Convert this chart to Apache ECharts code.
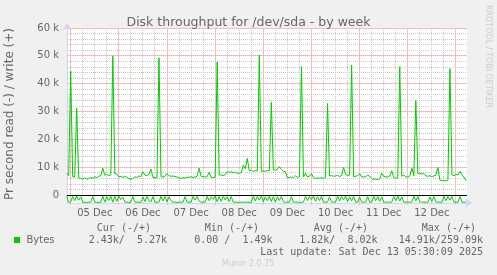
<!DOCTYPE html>
<html><head><meta charset="utf-8">
<script src="https://cdn.jsdelivr.net/npm/echarts@6/dist/echarts.min.js"></script>
<style>html,body{margin:0;padding:0;background:#F0F0F0;}#c{width:497px;height:275px;}</style>
</head><body><div id="c"></div>
<script>
// hourly samples, first sample at Dec 4 22:00 (hours relative to Dec 5 00:00)
const startHour = -2;
// write (+) in k bytes/s
const writeK = [
7.8, 7.0, 44.5, 6.6, 6.5, 31.3, 6.2, 6.0, 5.8, 6.2,
5.7, 6.0, 6.4, 6.1, 6.6, 6.3, 6.8, 7.0, 9.7, 7.2,
7.4, 7.0, 7.3, 50.0, 7.8, 7.6, 6.6, 6.8, 6.4, 6.7,
6.5, 5.9, 5.7, 6.0, 6.6, 6.4, 6.9, 6.7, 8.4, 7.3,
7.0, 7.5, 9.4, 6.4, 6.2, 6.3, 49.3, 6.6, 6.5, 6.8,
7.8, 7.0, 6.8, 6.9, 6.7, 6.5, 6.2, 6.0, 6.3, 6.1,
6.5, 6.4, 6.6, 6.3, 6.5, 6.8, 9.7, 6.8, 6.6, 6.5,
6.7, 8.2, 6.4, 6.3, 6.5, 47.8, 7.2, 7.3, 7.0, 7.4,
8.4, 8.2, 8.5, 8.0, 8.3, 7.8, 7.9, 8.0, 10.8, 9.5,
13.2, 8.8, 9.0, 8.6, 8.8, 8.7, 50.3, 8.5, 8.7, 8.6,
8.8, 8.9, 33.3, 9.1, 9.0, 9.3, 10.3, 9.2, 8.6, 8.4,
6.2, 6.4, 6.5, 6.3, 7.0, 6.4, 6.6, 46.1, 6.5, 7.8,
6.6, 6.8, 7.8, 6.3, 6.0, 6.2, 6.1, 6.3, 6.0, 6.4,
32.9, 6.9, 7.0, 6.8, 6.9, 7.1, 6.7, 7.0, 10.0, 7.5,
7.0, 7.2, 46.6, 6.6, 6.8, 7.0, 7.8, 6.6, 6.5, 6.7,
7.2, 6.8, 5.9, 5.7, 5.8, 5.6, 5.9, 7.8, 6.8, 6.6,
6.5, 6.9, 8.8, 6.3, 6.1, 6.2, 46.1, 6.8, 7.2, 6.6,
6.5, 6.9, 9.7, 7.0, 33.9, 7.8, 7.9, 7.6, 7.8, 6.9,
6.8, 7.0, 6.7, 6.9, 7.2, 10.0, 5.4, 5.2, 5.3, 5.1,
5.4, 45.4, 7.3, 7.0, 7.5, 7.3, 8.6, 7.3, 6.5, 5.27
];
// read (-) in k bytes/s (drawn negative)
const readK = [
0.4, 2.5, 2.5, 0.5, 2.0, 0.3, 1.8, 0.6, 2.5, 2.5,
2.6, 2.5, 2.5, 0.5, 2.5, 2.5, 2.6, 2.5, 0.4, 2.5,
0.6, 1.9, 0.4, 2.5, 0.5, 2.2, 0.3, 1.6, 0.7, 2.5,
2.5, 2.6, 2.5, 0.5, 2.5, 2.5, 2.5, 2.6, 0.6, 2.3,
0.4, 2.0, 2.4, 0.5, 2.5, 2.5, 2.5, 0.4, 2.1, 0.5,
2.4, 0.6, 2.0, 2.5, 2.5, 2.6, 2.5, 2.5, 2.5, 0.5,
2.5, 2.5, 2.5, 0.4, 1.8, 0.5, 2.2, 2.5, 2.5, 2.5,
0.4, 2.0, 0.6, 1.5, 0.3, 2.4, 0.5, 2.2, 0.4, 1.7,
0.6, 2.3, 0.5, 2.5, 2.5, 2.5, 2.6, 2.5, 2.5, 2.5,
2.5, 2.6, 2.5, 0.4, 2.1, 0.5, 1.8, 0.3, 2.4, 0.6,
2.0, 0.4, 2.3, 0.5, 2.5, 0.6, 1.9, 0.4, 2.4, 2.5,
2.5, 2.5, 0.5, 2.5, 2.5, 2.5, 2.6, 2.5, 2.5, 0.4,
2.0, 0.5, 1.6, 0.3, 2.2, 0.6, 1.9, 0.4, 2.5, 2.5,
2.5, 0.6, 2.5, 2.5, 2.5, 0.4, 2.1, 0.5, 1.7, 0.3,
2.3, 0.6, 2.0, 0.4, 2.5, 2.5, 0.6, 2.5, 2.5, 2.5,
0.5, 2.5, 2.5, 0.4, 2.0, 0.5, 2.2, 0.6, 2.5, 2.5,
2.5, 2.5, 2.5, 0.5, 1.9, 0.4, 2.1, 0.6, 2.5, 2.5,
2.5, 2.5, 2.5, 0.4, 2.0, 0.5, 2.3, 2.5, 2.5, 2.5,
2.5, 0.6, 2.2, 0.5, 2.5, 2.5, 2.5, 2.5, 0.4, 2.0,
0.5, 1.8, 0.4, 2.5, 2.5, 2.5, 0.5, 2.5, 2.5, 2.43
];
const dayLabels = ['05 Dec','06 Dec','07 Dec','08 Dec','09 Dec','10 Dec','11 Dec','12 Dec'];
const dayLabelHours = [12, 36, 60, 84, 108, 132, 156, 180];
const yTickValues = [0, 10000, 20000, 30000, 40000, 50000, 60000];
const legendHeaders = ['Cur (-/+)', 'Min (-/+)', 'Avg (-/+)', 'Max (-/+)'];
const legendValues = ['2.43k/  5.27k', '0.00 /  1.49k', '1.82k/  8.02k', '14.91k/259.09k'];
const seriesName = 'Bytes';
const titleText = 'Disk throughput for /dev/sda - by week';
const yTitle = 'Pr second read (-) / write (+)';
const lastUpdate = 'Last update: Sat Dec 13 05:30:09 2025';
const footer = 'Munin 2.0.75';
const sideText = 'RRDTOOL / TOBI OETIKER';

const xMin = -11/6, xMax = 197.5, yMin = -2800, yMax = 60000;

const writeData = writeK.map((v, i) => [startHour + i, v * 1000]);
const readData = readK.map((v, i) => [startHour + i, -v * 1000]);

const majorV = [0, 24, 48, 72, 96, 120, 144, 168, 192];
const minorV = [], majorH = [10000, 20000, 30000, 40000, 50000, 60000], minorH = [];
for (let h = 6; h <= xMax; h += 6) { if (h % 24 !== 0) minorV.push(h); }
for (let v = 2000; v <= yMax; v += 2000) { if (v % 10000 !== 0) minorH.push(v); }

const FONT = '#666666', AXIS = '#CFD6F8', GREEN = '#00CC00';

// grid lines drawn through the axes' scales, snapped to crisp pixels
function gridSeries(name, values, orient, color, dash, z, tick) {
  return {
    name: name, type: 'custom', silent: true, animation: false, clip: false, z: z,
    data: values.map(v => orient === 'v' ? [v, 0] : [0, v]),
    encode: {x: 0, y: 1},
    renderItem: function (params, api) {
      const cs = params.coordSys;
      const p = api.coord([api.value(0), api.value(1)]);
      let shape;
      if (orient === 'v') {
        const x = Math.floor(p[0]) + 0.5;
        shape = {x1: x, y1: cs.y, x2: x, y2: cs.y + cs.height + (tick || 0)};
      } else {
        const y = Math.floor(p[1]) + 0.5;
        shape = {x1: cs.x, y1: y, x2: cs.x + cs.width, y2: y};
      }
      return {type: 'line', shape: shape, style: {stroke: color, lineWidth: 1, lineDash: dash ? dash.slice() : null}};
    }
  };
}

const chart = echarts.init(document.getElementById('c'), null, {renderer: 'canvas'});
const monoStyle = (txt, x, y, align, color) => ({
  type: 'text', x: x, y: y, silent: true,
  style: {text: txt, fill: color || FONT, font: '10px "DejaVu Sans Mono"', textAlign: align, textVerticalAlign: 'middle'}
});
const graphics = [
  {type: 'text', x: 10, y: 114, rotation: Math.PI / 2, silent: true,
   style: {text: yTitle, fill: FONT, font: '12px "DejaVu Sans"', textAlign: 'center', textVerticalAlign: 'middle'}},
  {type: 'text', x: 488, y: 5, rotation: -Math.PI / 2, silent: true,
   style: {text: sideText, fill: '#cccccc', font: '8px "DejaVu Sans"', textAlign: 'left', textVerticalAlign: 'middle'}},
  {type: 'rect', shape: {x: 14, y: 237, width: 6, height: 6}, style: {fill: GREEN, stroke: null}, silent: true},
  {type: 'text', x: 26.5, y: 240, silent: true,
   style: {text: seriesName, fill: FONT, font: '10px "DejaVu Sans"', textAlign: 'left', textVerticalAlign: 'middle'}},
  {type: 'text', x: 248, y: 264, silent: true,
   style: {text: footer, fill: '#cccccc', font: '8px "DejaVu Sans"', textAlign: 'center', textVerticalAlign: 'middle'}},
  monoStyle(lastUpdate, 483, 252, 'right')
];
const headerRight = [151, 259, 368, 476];
const valueRight = [167, 272.5, 377.5, 483];
legendHeaders.forEach((t, k) => graphics.push(monoStyle(t, headerRight[k], 228, 'right')));
legendValues.forEach((t, k) => graphics.push(monoStyle(t, valueRight[k], 240, 'right')));

chart.setOption({
  animation: false,
  backgroundColor: '#F0F0F0',
  title: {text: titleText, left: 'center', top: 11,
    textStyle: {color: FONT, fontSize: 12.5, fontWeight: 'normal', fontFamily: 'DejaVu Sans'}},
  grid: {left: 67, top: 28, width: 400, height: 175, show: true, backgroundColor: '#FFFFFF', borderWidth: 0, containLabel: false},
  xAxis: {type: 'value', min: xMin, max: xMax,
    axisLine: {show: true, onZero: false, lineStyle: {color: AXIS, width: 1}, symbol: ['none', 'arrow'], symbolSize: [7, 7], symbolOffset: [0, 5]},
    axisTick: {show: false}, splitLine: {show: false},
    axisLabel: {customValues: dayLabelHours, color: FONT, fontSize: 10, fontFamily: 'DejaVu Sans', margin: 5,
      formatter: v => dayLabels[dayLabelHours.indexOf(v)] || ''}},
  yAxis: {type: 'value', min: yMin, max: yMax,
    axisLine: {show: true, onZero: false, lineStyle: {color: AXIS, width: 1}, symbol: ['none', 'arrow'], symbolSize: [7, 7], symbolOffset: [0, 5]},
    axisTick: {show: false}, splitLine: {show: false},
    axisLabel: {customValues: yTickValues, color: FONT, fontSize: 10, fontFamily: 'DejaVu Sans', margin: 8,
      formatter: v => v === 0 ? '0' : (v / 1000) + ' k'}},
  graphic: graphics,
  series: [
    gridSeries('minorV', minorV, 'v', '#c8c8c8', [1, 1], 1, 1),
    gridSeries('minorH', minorH, 'h', '#c8c8c8', [1, 1], 1),
    gridSeries('majorV', majorV, 'v', '#f5bcbc', null, 2, 2),
    gridSeries('majorH', majorH, 'h', '#f5bcbc', null, 2),
    {name: 'write', type: 'line', data: writeData, showSymbol: false, z: 4, clip: true,
     lineStyle: {color: GREEN, width: 1}, itemStyle: {color: GREEN}},
    {name: 'read', type: 'line', data: readData, showSymbol: false, z: 4, clip: true,
     lineStyle: {color: GREEN, width: 1}, itemStyle: {color: GREEN}},
    gridSeries('zero', [0], 'h', '#000000', null, 5)
  ]
});
</script>
</body></html>
